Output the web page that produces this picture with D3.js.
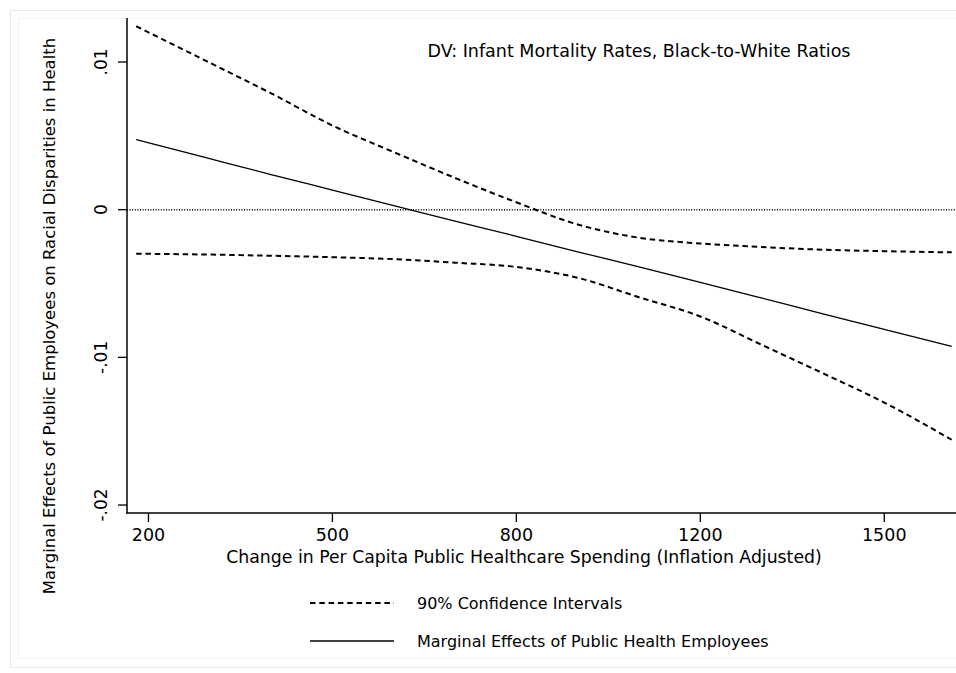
<!DOCTYPE html>
<html lang="en">
  <head>
    <meta charset="UTF-8" />
    <title>Marginal Effects of Public Health Employees</title>
    <script src="https://d3js.org/d3.v7.min.js"></script>
    <style>
      body {
        margin: 0;
        background: #fff;
      }
      text {
        font-family: "DejaVu Sans", sans-serif;
        fill: #000;
      }
      .ci {
        fill: none;
        stroke: #000;
        stroke-width: 2px;
        stroke-dasharray: 5.5 3.8;
      }
      .effect {
        fill: none;
        stroke: #000;
        stroke-width: 1.3px;
      }
    </style>
  </head>
  <body>
    <svg width="956" height="673"></svg>

    <script>
      // spending values (axis positions) and estimated effects
      const spending = [180, 300, 400, 500, 600, 700, 800, 900, 1000, 1100, 1200, 1300, 1400, 1510];
      const effect = [0.00474, 0.00345, 0.00238, 0.00133, 0.00028, -0.00077, -0.0018, -0.00285, -0.00388, -0.00492, -0.00598, -0.00705, -0.00811, -0.00926];
      const upperCI = [0.01242, 0.00995, 0.00788, 0.0057, 0.0039, 0.00215, 0.0005, -0.001, -0.0019, -0.00229, -0.00253, -0.00271, -0.00281, -0.00289];
      const lowerCI = [-0.00298, -0.00304, -0.00312, -0.00322, -0.00335, -0.00359, -0.00388, -0.00461, -0.00593, -0.00723, -0.00915, -0.01108, -0.01306, -0.01558];

      const xTicks = [200, 500, 800, 1100, 1400];
      const xTickLabels = ["200", "500", "800", "1200", "1500"];
      const yTicks = [0.01, 0, -0.01, -0.02];
      const yTickLabels = [".01", "0", "-.01", "-.02"];

      const svg = d3.select("svg");

      // faint outer frames
      svg.append("rect")
        .attr("x", 10.5).attr("y", 10.5)
        .attr("width", 960).attr("height", 657)
        .attr("fill", "none").attr("stroke", "#e6e6e6");
      svg.append("rect")
        .attr("x", 18.5).attr("y", 18.5)
        .attr("width", 960).attr("height", 640)
        .attr("fill", "none").attr("stroke", "#f3f3f3");

      const x = d3.scaleLinear().domain([165, 1517]).range([127, 956]);
      const y = d3.scaleLinear().domain([-0.02054, 0.01298]).range([513, 18]);

      // zero reference line
      svg.append("line")
        .attr("x1", 127).attr("x2", 956)
        .attr("y1", y(0)).attr("y2", y(0))
        .attr("stroke", "#000")
        .attr("stroke-width", 1.6)
        .attr("stroke-dasharray", "1 1.6");

      const line = (vals) =>
        d3.line()
          .x((d, i) => x(spending[i]))
          .y((d) => y(d))
          .curve(d3.curveMonotoneX)(vals);

      svg.append("path").attr("class", "ci").attr("d", line(upperCI));
      svg.append("path").attr("class", "ci").attr("d", line(lowerCI));
      svg.append("path").attr("class", "effect").attr("d", line(effect));

      // y axis
      const yAxis = svg.append("g").attr("transform", "translate(127,0)");
      yAxis.append("line")
        .attr("x1", 0).attr("x2", 0)
        .attr("y1", 18).attr("y2", 513.5)
        .attr("stroke", "#000").attr("stroke-width", 1.5);
      yTicks.forEach((t, i) => {
        yAxis.append("line")
          .attr("x1", -9).attr("x2", 0)
          .attr("y1", y(t)).attr("y2", y(t))
          .attr("stroke", "#000").attr("stroke-width", 1.3);
        yAxis.append("text")
          .attr("transform", `translate(-20,${y(t)}) rotate(-90)`)
          .attr("text-anchor", "middle")
          .style("font-size", "17px")
          .text(yTickLabels[i]);
      });

      // x axis
      const xAxis = svg.append("g").attr("transform", "translate(0,513)");
      xAxis.append("line")
        .attr("x1", 126.3).attr("x2", 956)
        .attr("y1", 0).attr("y2", 0)
        .attr("stroke", "#000").attr("stroke-width", 1.5);
      xTicks.forEach((t, i) => {
        xAxis.append("line")
          .attr("x1", x(t)).attr("x2", x(t))
          .attr("y1", 0).attr("y2", 9)
          .attr("stroke", "#000").attr("stroke-width", 1.3);
        xAxis.append("text")
          .attr("x", x(t)).attr("y", 28)
          .attr("text-anchor", "middle")
          .style("font-size", "17.5px")
          .text(xTickLabels[i]);
      });

      // titles
      svg.append("text")
        .attr("x", 524).attr("y", 563)
        .attr("text-anchor", "middle")
        .style("font-size", "17.3px")
        .text("Change in Per Capita Public Healthcare Spending (Inflation Adjusted)");

      svg.append("text")
        .attr("transform", "translate(55,316) rotate(-90)")
        .attr("text-anchor", "middle")
        .style("font-size", "16.5px")
        .text("Marginal Effects of Public Employees on Racial Disparities in Health");

      svg.append("text")
        .attr("x", 639).attr("y", 57)
        .attr("text-anchor", "middle")
        .style("font-size", "17.5px")
        .text("DV: Infant Mortality Rates, Black-to-White Ratios");

      // legend
      const legend = [
        { label: "90% Confidence Intervals", cls: "ci", y: 603 },
        { label: "Marginal Effects of Public Health Employees", cls: "effect", y: 641 }
      ];
      legend.forEach((d) => {
        svg.append("line")
          .attr("class", d.cls)
          .attr("x1", 310).attr("x2", 394)
          .attr("y1", d.y).attr("y2", d.y);
        svg.append("text")
          .attr("x", 417).attr("y", d.y + 6)
          .style("font-size", "16px")
          .text(d.label);
      });
    </script>
  </body>
</html>
